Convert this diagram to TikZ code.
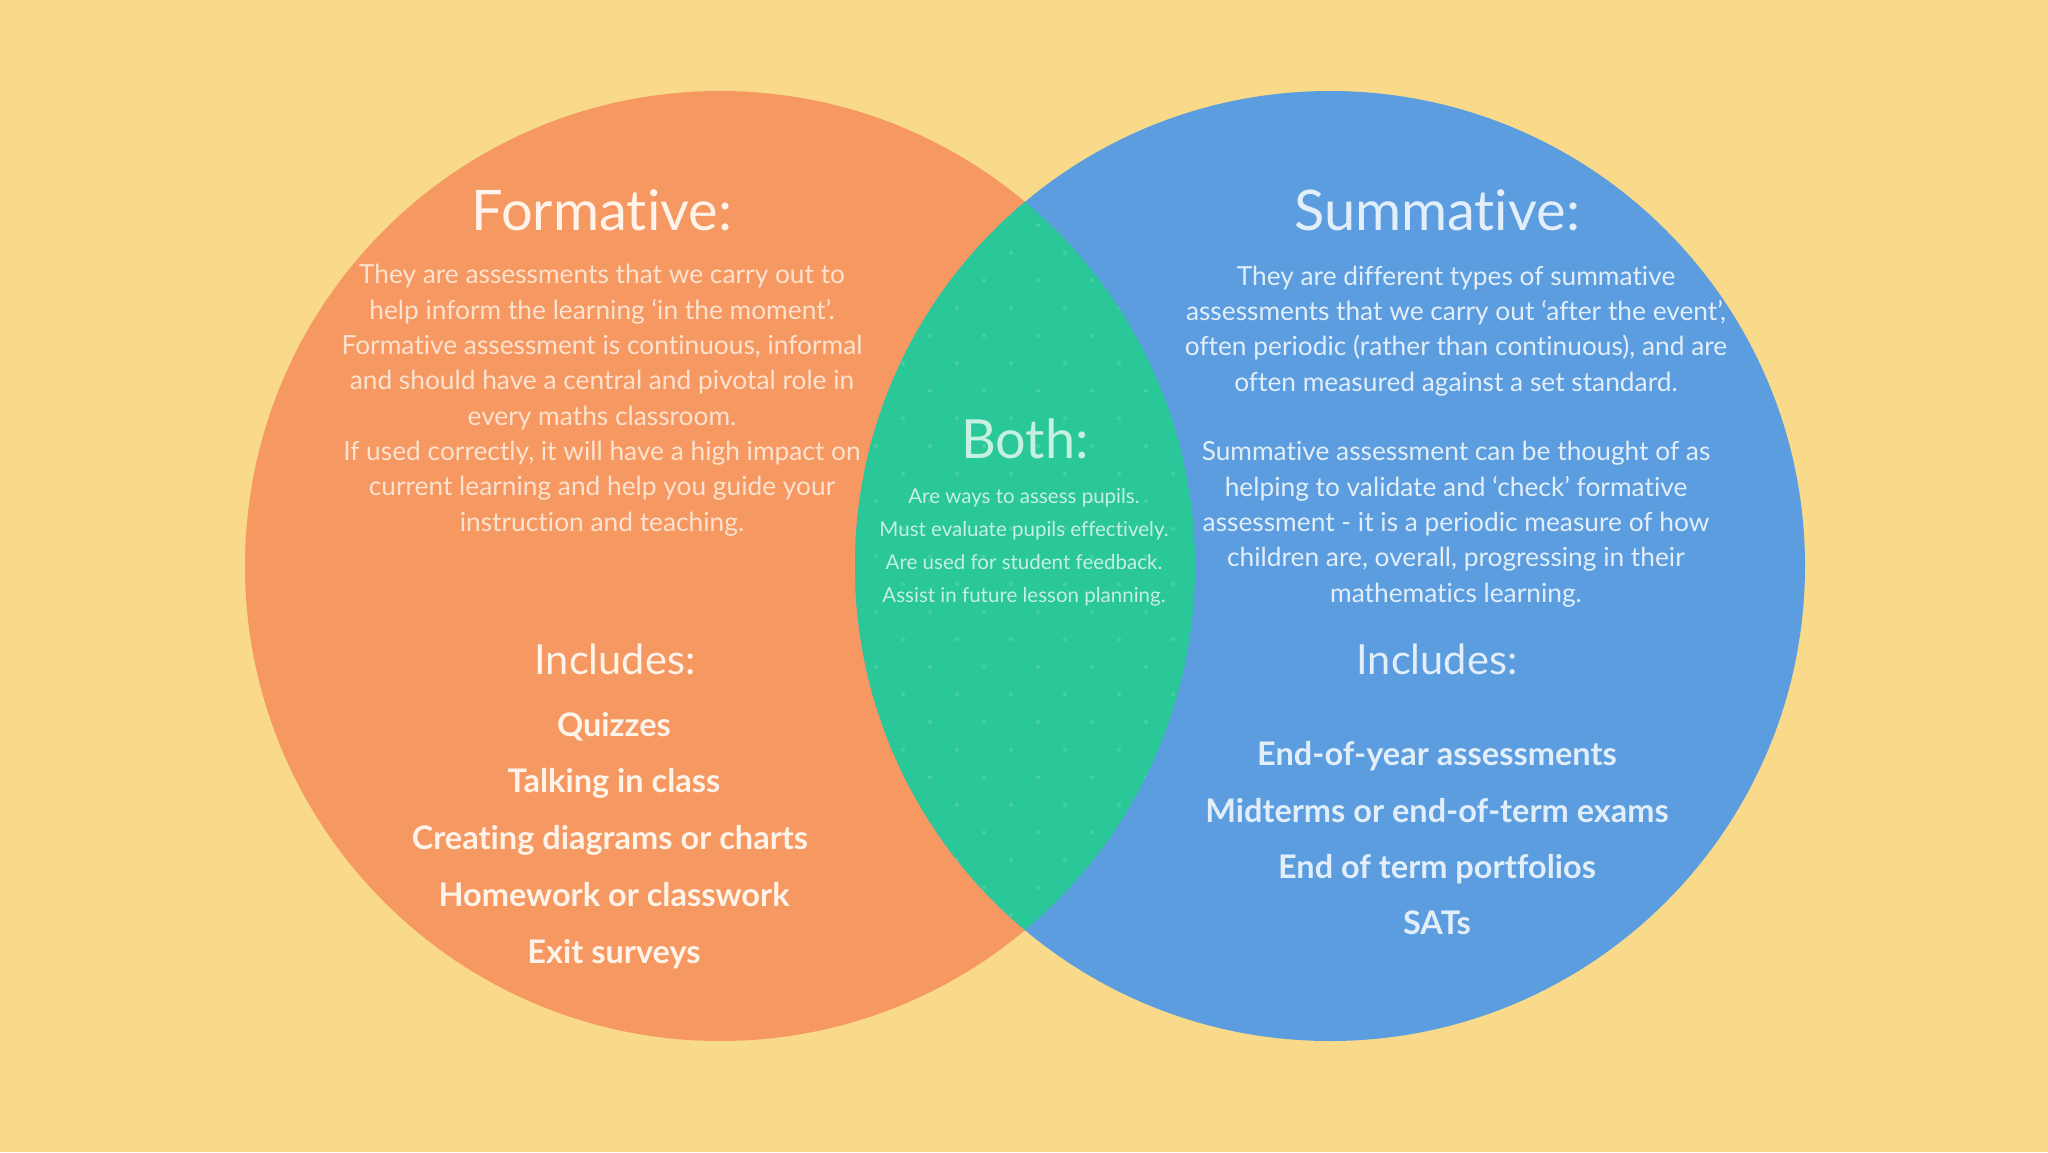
\documentclass[tikz,border=0pt]{standalone}
\usepackage{fontspec}
\setmainfont{Lato}[Ligatures={NoCommon}]
\newcommand{\tiX}{t\kern0pt i}
\definecolor{bgc}{HTML}{F8DA8A}
\definecolor{orc}{HTML}{F59862}
\definecolor{blc}{HTML}{5B9DDE}
\definecolor{grc}{HTML}{2AC798}
\definecolor{ortxt}{HTML}{FDE3CF}
\definecolor{ortitle}{HTML}{FFF4EA}
\definecolor{bltxt}{HTML}{E2EEFA}
\definecolor{grtxt}{HTML}{C6F0E0}
\tikzset{
  title/.style={inner sep=0pt, anchor=base, font=\fontsize{56}{62}\selectfont},
  body/.style={inner sep=0pt, anchor=base, align=center, font=\fontsize{26.3}{35.3}\selectfont},
  inc/.style={inner sep=0pt, anchor=base, font=\fontsize{41.5}{46}\selectfont},
  item/.style={inner sep=0pt, anchor=base, font=\bfseries\fontsize{32.5}{36}\selectfont},
  bothtxt/.style={inner sep=0pt, anchor=base, font=\fontsize{20.5}{33}\selectfont},
}
\begin{document}
\begin{tikzpicture}[x=1pt,y=-1pt]
\fill[bgc] (0,0) rectangle (2048,1152);
\useasboundingbox (0,0) rectangle (2048,1152);
\fill[orc] (720,566) circle[radius=475pt];
\fill[blc] (1330,566) circle[radius=475pt];
\begin{scope}
  \clip (720,566) circle[radius=475pt];
  \clip (1330,566) circle[radius=475pt];
  \fill[grc] (1330,566) circle[radius=475pt];
  \foreach \j in {0,...,28} {
    \foreach \m in {-6,...,6} {
      \pgfmathsetmacro{\xx}{1038+27*mod(\j,2)+54*\m}
      \pgfmathsetmacro{\yy}{170+27.6*\j}
      \fill[white, opacity=0.13] (\xx,\yy) circle[radius=2.2pt];
    }
  }
\end{scope}
% Formative
\node[title, text=ortitle] (ftitle) at (602,230) {Forma\tiX ve:};
\node[body, text=ortxt] (fbody) at (602,531) {They are assessments that we carry out to\\
help inform the learning `in the moment'.\\
Forma\tiX ve assessment is con\tiX nuous, informal\\
and should have a central and pivotal role in\\
every maths classroom.\\
If used correctly, it will have a high impact on\\
current learning and help you guide your\\
instruc\tiX on and teaching.};
\node[inc, text=ortitle] (finc) at (615,674) {Includes:};
\node[item, text=ortitle] (f1) at (614,736) {Quizzes};
\node[item, text=ortitle] (f2) at (614,792) {Talking in class};
\node[item, text=ortitle] (f3) at (610,849) {Crea\tiX ng diagrams or charts};
\node[item, text=ortitle] (f4) at (614,906) {Homework or classwork};
\node[item, text=ortitle] (f5) at (614,963) {Exit surveys};
% Summative
\node[title, text=bltxt] (stitle) at (1437,230) {Summa\tiX ve:};
\node[body, text=bltxt] (sbody1) at (1456,391) {They are different types of summa\tiX ve\\
assessments that we carry out `after the event',\\
often periodic (rather than con\tiX nuous), and are\\
often measured against a set standard.};
\node[body, text=bltxt] (sbody2) at (1456,602) {Summa\tiX ve assessment can be thought of as\\
helping to validate and `check' forma\tiX ve\\
assessment - it is a periodic measure of how\\
children are, overall, progressing in their\\
mathema\tiX cs learning.};
\node[inc, text=bltxt] (sinc) at (1437,674) {Includes:};
\node[item, text=bltxt] (s1) at (1437,765) {End-of-year assessments};
\node[item, text=bltxt] (s2) at (1437,822) {Midterms or end-of-term exams};
\node[item, text=bltxt] (s3) at (1437,878) {End of term portfolios};
\node[item, text=bltxt] (s4) at (1437,934) {SATs};
% Both
\node[title, text=grtxt, font=\fontsize{54}{60}\selectfont] (btitle) at (1025,458) {Both:};
\node[bothtxt, text=grtxt] (b1) at (1024,503) {Are ways to assess pupils.};
\node[bothtxt, text=grtxt] (b2) at (1024,536) {Must evaluate pupils effec\tiX vely.};
\node[bothtxt, text=grtxt] (b3) at (1024,569) {Are used for student feedback.};
\node[bothtxt, text=grtxt] (b4) at (1024,602) {Assist in future lesson planning.};
\end{tikzpicture}
\end{document}
